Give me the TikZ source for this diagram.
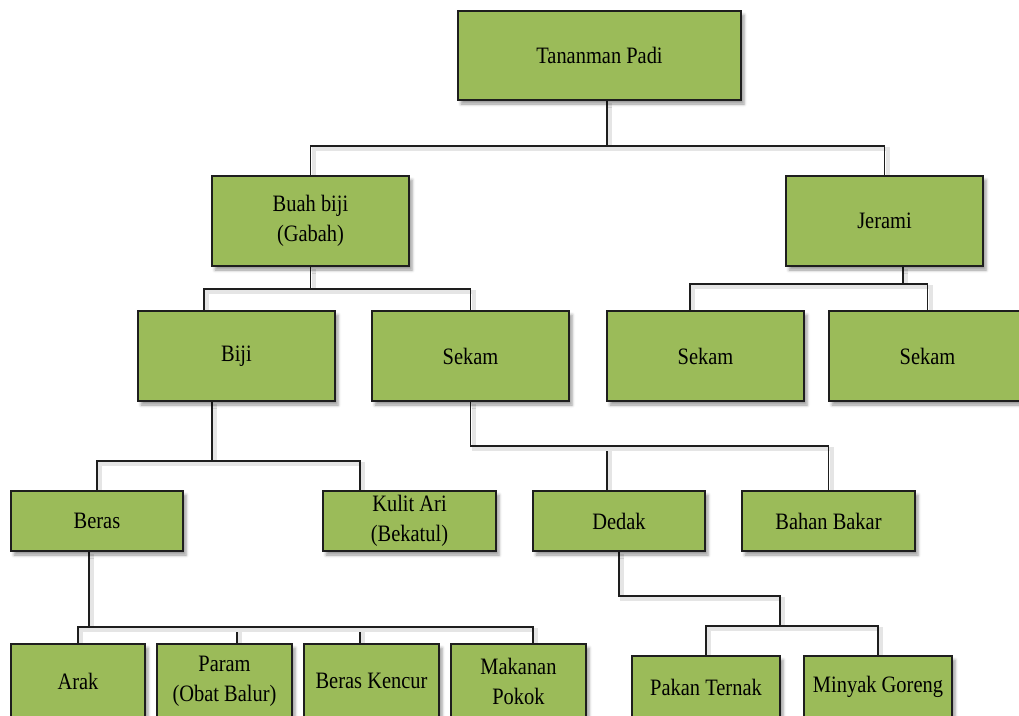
\documentclass[tikz,border=0pt]{standalone}
\usepackage{fontspec}
\setmainfont{Liberation Serif}[FakeStretch=0.87]
\usetikzlibrary{shadows.blur}

\definecolor{leaf}{HTML}{9BBB59}
\definecolor{ink}{HTML}{1E1E1E}

\pgfdeclarelayer{background}
\pgfsetlayers{background,main}

\tikzset{
  box/.style={draw=ink, line width=1.4pt, fill=leaf, inner sep=0pt, outer sep=0pt,
    align=center, text=black,
    font=\fontsize{23.5pt}{30pt}\selectfont,
    blur shadow={shadow xshift=3pt, shadow yshift=-4pt, shadow blur radius=3pt, shadow opacity=40}},
  wire/.style={draw=ink, line width=1.3pt,
    preaction={draw=black!10, line width=4pt, transform canvas={shift={(3pt,-3pt)}}}},
}

\begin{document}
\begin{tikzpicture}[x=1pt, y=-1pt]
\useasboundingbox (0,0) rectangle (1019,715);
\clip (0,0) rectangle (1019,715);

% root and first level
\node[box, minimum width=283, minimum height=89] (padi)   at (599.5,55.5) {Tananman Padi};
\node[box, minimum width=197, minimum height=90] (buah)   at (310.5,221)  {Buah biji\\(Gabah)};
\node[box, minimum width=197, minimum height=90] (jerami) at (884.5,221)  {Jerami};

% second level
\node[box, minimum width=197, minimum height=90] (biji)   at (236.5,356) {Biji};
\node[box, minimum width=197, minimum height=90] (sekamA) at (470.5,356) {Sekam};
\node[box, minimum width=197, minimum height=90] (sekamB) at (705.5,356) {Sekam};
\node[box, minimum width=197, minimum height=90] (sekamC) at (927.5,356) {Sekam};

% third level
\node[box, minimum width=172, minimum height=60] (beras)  at (97,521)    {Beras};
\node[box, minimum width=173, minimum height=60] (kulit)  at (409.5,521) {Kulit Ari\\(Bekatul)};
\node[box, minimum width=172, minimum height=60] (dedak)  at (619,521)   {Dedak};
\node[box, minimum width=173, minimum height=60] (bahan)  at (828.5,521) {Bahan Bakar};

% products
\node[box, minimum width=134, minimum height=74] (arak)    at (78,681)    {Arak};
\node[box, minimum width=135, minimum height=74] (param)   at (224.5,681) {Param\\(Obat Balur)};
\node[box, minimum width=135, minimum height=74] (kencur)  at (371.5,681) {Beras Kencur};
\node[box, minimum width=135, minimum height=74] (makanan) at (518.5,681) {Makanan\\Pokok};
\node[box, minimum width=148, minimum height=62] (pakan)   at (706,687)   {Pakan Ternak};
\node[box, minimum width=148, minimum height=62] (minyak)  at (878,687)   {Minyak Goreng};

% junction above the oil/feed pair
\coordinate (dj) at (780,626);

% connectors, kept behind the boxes
\begin{pgfonlayer}{background}
\draw[wire] ([xshift=7.5pt]padi.south) -- ++(0,46) -| (buah.north);
\draw[wire] ([xshift=7.5pt]padi.south) -- ++(0,46) -| (jerami.north);

\draw[wire] (buah.south) -- ++(0,23) -| ([xshift=-32.5pt]biji.north);
\draw[wire] (buah.south) -- ++(0,23) -| (sekamA.north);

\draw[wire] ([xshift=18.5pt]jerami.south) -- ++(0,18) -| ([xshift=-15.5pt]sekamB.north);
\draw[wire] ([xshift=18.5pt]jerami.south) -- ++(0,18) -| (sekamC.north);

\draw[wire] ([xshift=-24.5pt]biji.south) -- ++(0,60) -| (beras.north);
\draw[wire] ([xshift=-24.5pt]biji.south) -- ++(0,60) -| ([xshift=-49.5pt]kulit.north);

\draw[wire] (sekamA.south) -- ++(0,45) -| ([xshift=-12pt]dedak.north);
\draw[wire] (sekamA.south) -- ++(0,45) -| (bahan.north);

\draw[wire] ([xshift=-8pt]beras.south) -- ++(0,76) -| (arak.north);
\draw[wire] ([xshift=-8pt]beras.south) -- ++(0,76) -| ([xshift=12.5pt]param.north);
\draw[wire] ([xshift=-8pt]beras.south) -- ++(0,76) -| ([xshift=-11.5pt]kencur.north);
\draw[wire] ([xshift=-8pt]beras.south) -- ++(0,76) -| ([xshift=14.5pt]makanan.north);

\draw[wire] (dedak.south) -- ++(0,45) -| (dj);
\draw[wire] (dj) -| (pakan.north);
\draw[wire] (dj) -| (minyak.north);
\end{pgfonlayer}
\end{tikzpicture}
\end{document}
